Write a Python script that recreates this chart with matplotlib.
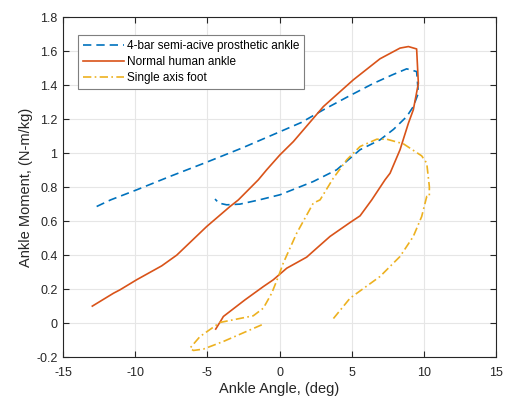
import matplotlib
matplotlib.use("Agg")
import matplotlib.pyplot as plt
import numpy as np

plt.rcParams['font.family'] = ['Liberation Sans', 'DejaVu Sans']
plt.rcParams['axes.unicode_minus'] = False

# 4-bar semi-active prosthetic ankle (dashed blue)
bar_x = [-12.67, -11.7, -9.9, -7.5, -5.04, -2.6, -0.19, 1.5, 3.04, 4.8, 6.5, 7.8, 8.81,
         9.5, 9.62, 9.27, 8.81, 7.9, 6.96, 5.58, 3.96, 2.34, 0.03, -1.4, -2.74, -3.66, -4.2, -4.47]
bar_y = [0.686, 0.725, 0.784, 0.866, 0.947, 1.03, 1.118, 1.18, 1.255, 1.335, 1.41, 1.46, 1.496,
         1.48, 1.353, 1.274, 1.215, 1.14, 1.078, 1.02, 0.902, 0.833, 0.755, 0.725, 0.70, 0.696, 0.706, 0.73]

# Normal human ankle (solid orange)
human_x = [-12.97, -11.5, -11.05, -9.9, -8.16, -7.12, -5.05, -3.43, -2.85, -1.47, -0.89, 0.03, 0.96,
           3.04, 5.11, 6.96, 8.35, 8.93, 9.5, 9.62, 9.27, 8.93, 8.35, 7.66, 7.31, 6.39, 5.58, 4.89,
           3.5, 2.58, 1.88, 0.5, -0.43, -1.12, -2.39, -3.89, -4.0, -4.42]
human_y = [0.10, 0.176, 0.196, 0.255, 0.337, 0.40, 0.568, 0.686, 0.725, 0.843, 0.902, 0.99, 1.068,
           1.274, 1.431, 1.555, 1.618, 1.627, 1.613, 1.41, 1.255, 1.176, 1.02, 0.882, 0.843, 0.725, 0.631, 0.592,
           0.51, 0.441, 0.388, 0.323, 0.255, 0.215, 0.137, 0.039, 0.023, -0.035]

# Single axis foot (dash-dot yellow)
foot_x = [-1.23, -3.89, -5.28, -5.97, -6.2, -5.51, -4.12, -1.82, -1.12, -0.54, -0.08, 0.26, 1.19,
          2.34, 2.81, 3.73, 4.66, 5.58, 6.74, 7.43, 8.58, 9.85, 10.2, 10.38, 10.38, 10.2, 9.85, 9.27,
          8.35, 6.96, 4.89, 3.62]
foot_y = [-0.01, -0.108, -0.153, -0.161, -0.147, -0.079, 0.004, 0.043, 0.088, 0.176, 0.274, 0.353, 0.529,
          0.706, 0.725, 0.853, 0.961, 1.039, 1.082, 1.082, 1.055, 0.984, 0.941, 0.804, 0.745, 0.745, 0.627, 0.51,
          0.392, 0.274, 0.147, 0.015]

labels = ['4-bar semi-acive prosthetic ankle', 'Normal human ankle', 'Single axis foot']

fig = plt.figure(figsize=(5.05, 3.99), dpi=100)
ax = fig.add_axes([0.1248, 0.105, 0.8574, 0.852])

ax.plot(bar_x, bar_y, color='#0072BD', ls=(0, (5, 3)), lw=1.2, label=labels[0])
ax.plot(human_x, human_y, color='#D95319', ls='-', lw=1.2, label=labels[1])
ax.plot(foot_x, foot_y, color='#EDB120', ls=(0, (5, 2, 1, 2)), lw=1.2, label=labels[2])

ax.set_xlim(-15, 15)
ax.set_ylim(-0.2, 1.8)
ax.set_xticks(np.arange(-15, 16, 5))
ax.set_yticks(np.arange(-0.2, 1.81, 0.2))
ax.set_yticklabels(['-0.2', '0', '0.2', '0.4', '0.6', '0.8', '1', '1.2', '1.4', '1.6', '1.8'])
ax.grid(True, color='#e6e6e6', lw=0.8)
ax.set_axisbelow(True)
ax.tick_params(direction='in', top=True, right=True, labelsize=9, length=4, color='#262626',
               labelcolor='#262626', pad=4)
ax.tick_params(axis='x', pad=7)
for s in ax.spines.values():
    s.set_color('#262626')
    s.set_linewidth(0.8)

ax.set_xlabel('Ankle Angle, (deg)', fontsize=10.5, color='#262626', labelpad=2)
ax.set_ylabel('Ankle Moment, (N-m/kg)', fontsize=10.5, color='#262626', labelpad=2)

leg = ax.legend(loc='upper left', bbox_to_anchor=(0.035, 0.947), fontsize=8.5, handlelength=3.5,
                handletextpad=0.25, borderaxespad=0, borderpad=0.4, labelspacing=0.35,
                fancybox=False, framealpha=1, edgecolor='#7f7f7f')
leg.get_frame().set_linewidth(0.8)

fig.savefig('out.png', dpi=100)
